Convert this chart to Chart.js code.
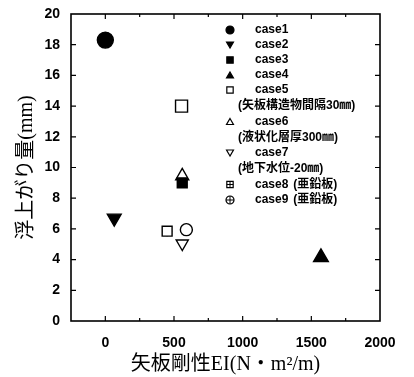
<!DOCTYPE html>
<html>
<head>
<meta charset="utf-8">
<script src="https://cdn.jsdelivr.net/npm/chart.js@4/dist/chart.umd.min.js"></script>
<style>
  html, body { margin: 0; padding: 0; background: #fff; }
  #wrap { width: 414px; height: 377px; }
</style>
</head>
<body>
<div id="wrap"><canvas id="c" width="414" height="377"></canvas></div>
<script>
const caseLabels = ['case1', 'case2', 'case3', 'case4', 'case5', 'case6', 'case7', 'case8', 'case9'];
const caseNotes  = ['', '', '', '', '(矢板構造物間隔30㎜)', '(液状化層厚300㎜)', '(地下水位-20㎜)', '(亜鉛板)', '(亜鉛板)'];
const rigidity   = [0, 65, 560, 1570, 555, 560, 560, 450, 590];      // EI (N·m²/m)
const uplift     = [18.3, 6.7, 9.0, 4.15, 14.0, 9.45, 5.05, 5.85, 5.95]; // mm
const xTicks     = [0, 500, 1000, 1500, 2000];
const yTicks     = [0, 2, 4, 6, 8, 10, 12, 14, 16, 18, 20];

const INK   = '#000';
const SANS  = "'Liberation Sans', 'Noto Sans CJK JP', sans-serif";
const SERIF = "'Liberation Serif', 'Noto Sans CJK JP', serif";

// marker look for each case: [pointStyle, radius, filled, rotation, cross radius]
const markers = [
  ['circle',   8,   true,  0,   0],
  ['triangle', 8,   true,  180, 0],
  ['rect',     7,   true,  0,   0],
  ['triangle', 8.5, true,  0,   0],
  ['rect',     8.5, false, 0,   0],
  ['triangle', 7.5, false, 0,   0],
  ['triangle', 7,   false, 180, 0],
  ['rect',     7,   false, 0,   5],
  ['circle',   6,   false, 0,   6],
];

const datasets = [];
caseLabels.forEach((name, i) => {
  const [style, r, filled, rot, cross] = markers[i];
  datasets.push({
    label:           name,
    data:            [{ x: rigidity[i], y: uplift[i] }],
    pointStyle:      style,
    pointRadius:     r,
    pointRotation:   rot,
    borderColor:     INK,
    borderWidth:     1.4,
    backgroundColor: filled ? INK : '#fff',
  });
  if (cross) {
    datasets.push({
      label:       name + '+',
      data:        [{ x: rigidity[i], y: uplift[i] }],
      pointStyle:  'cross',
      pointRadius: cross,
      borderColor: INK,
      borderWidth: 1.4,
    });
  }
});

function drawMarker(ctx, style, r, filled, rot, x, y) {
  ctx.save();
  ctx.lineWidth   = 1.2;
  ctx.strokeStyle = INK;
  ctx.fillStyle   = filled ? INK : '#fff';
  ctx.translate(x, y);
  ctx.rotate(rot * Math.PI / 180);
  ctx.beginPath();
  if (style === 'circle') {
    ctx.arc(0, 0, r, 0, Math.PI * 2);
  } else if (style === 'rect') {
    const s = r * Math.SQRT1_2;
    ctx.rect(-s, -s, 2 * s, 2 * s);
  } else {
    ctx.moveTo(0, -r);
    ctx.lineTo(r * 0.866, r / 2);
    ctx.lineTo(-r * 0.866, r / 2);
    ctx.closePath();
  }
  ctx.fill();
  ctx.stroke();
  ctx.restore();
}

// legend sits inside the plot, upper right
const legendPlugin = {
  id: 'caseLegend',
  afterDatasetsDraw(chart) {
    const ctx = chart.ctx;
    const mx = 230, tx = 255, nx = 238;
    let row = 30;
    ctx.save();
    ctx.fillStyle    = INK;
    ctx.textBaseline = 'middle';
    ctx.textAlign    = 'left';
    ctx.font         = 'bold 12px ' + SANS;
    caseLabels.forEach((name, i) => {
      const [style, , filled, rot, cross] = markers[i];
      const rr = style === 'rect' ? 4.5 : 4;
      drawMarker(ctx, style, rr, filled, rot, mx, row + (style === 'triangle' ? (rot ? -1 : 1) : 0));
      if (cross) {
        const c = style === 'rect' ? rr * Math.SQRT1_2 : rr;
        ctx.save();
        ctx.strokeStyle = INK;
        ctx.lineWidth = 1;
        ctx.beginPath();
        ctx.moveTo(mx - c, row); ctx.lineTo(mx + c, row);
        ctx.moveTo(mx, row - c); ctx.lineTo(mx, row + c);
        ctx.stroke();
        ctx.restore();
      }
      ctx.fillText(name, tx, row);
      const note = caseNotes[i];
      if (note && cross) {
        ctx.fillText(note, tx + ctx.measureText(name).width + 5, row);
        row += 15.5;
      } else if (note) {
        row += 16;
        ctx.fillText(note, nx, row);
        row += 15.5;
      } else {
        row += 15;
      }
    });
    ctx.restore();
  }
};

// box round the plot with inward ticks on all four sides
const framePlugin = {
  id: 'frame',
  afterDraw(chart) {
    const { ctx, chartArea: a, scales: { x, y } } = chart;
    ctx.save();
    ctx.strokeStyle = INK;
    ctx.lineWidth = 1.6;
    ctx.strokeRect(a.left, a.top, a.right - a.left, a.bottom - a.top);
    ctx.lineWidth = 1.2;
    ctx.beginPath();
    x.ticks.forEach(t => {
      const px = x.getPixelForValue(t.value);
      if (px <= a.left + 1 || px >= a.right - 1) return;
      const len = t.value % 500 === 0 ? 5 : 3;
      ctx.moveTo(px, a.bottom); ctx.lineTo(px, a.bottom - len);
      ctx.moveTo(px, a.top);    ctx.lineTo(px, a.top + len);
    });
    y.ticks.forEach(t => {
      const py = y.getPixelForValue(t.value);
      if (py <= a.top + 1 || py >= a.bottom - 1) return;
      const len = t.value % 2 === 0 ? 5 : 3;
      ctx.moveTo(a.left, py);  ctx.lineTo(a.left + len, py);
      ctx.moveTo(a.right, py); ctx.lineTo(a.right - len, py);
    });
    ctx.stroke();
    ctx.restore();
  }
};

new Chart(document.getElementById('c'), {
  type: 'scatter',
  data: { datasets },
  plugins: [legendPlugin, framePlugin],
  options: {
    responsive: false,
    animation: false,
    layout: { padding: { top: 14, right: 34, left: 0, bottom: 0 } },
    plugins: { legend: { display: false }, tooltip: { enabled: false } },
    scales: {
      x: {
        type: 'linear',
        min: -250, max: 2000,
        afterFit(s) { s.height = 56; },
        afterBuildTicks(s) { s.ticks = []; for (let v = -250; v <= 2000; v += 250) s.ticks.push({ value: v }); },
        grid: { display: false },
        border: { display: false },
        ticks: {
          color: INK,
          padding: 6,
          maxRotation: 0,
          font: { family: SANS, size: 14, weight: 'bold' },
          callback: v => xTicks.includes(v) ? String(v) : '',
        },
        title: {
          display: true,
          text: '矢板剛性EI(N・m²/m)',
          color: INK,
          padding: { top: 0, bottom: 0 },
          font: { family: SERIF, size: 20 },
        },
      },
      y: {
        min: 0, max: 20,
        afterFit(s) { s.width = 71; },
        afterBuildTicks(s) { s.ticks = []; for (let v = 0; v <= 20; v += 1) s.ticks.push({ value: v }); },
        grid: { display: false },
        border: { display: false },
        ticks: {
          color: INK,
          padding: 3,
          font: { family: SANS, size: 14, weight: 'bold' },
          callback: v => yTicks.includes(v) ? String(v) : '',
        },
        title: {
          display: true,
          text: '浮上がり量(mm)',
          color: INK,
          padding: { top: 15, bottom: 0 },
          font: { family: SERIF, size: 20 },
        },
      },
    },
  },
});
</script>
</body>
</html>
